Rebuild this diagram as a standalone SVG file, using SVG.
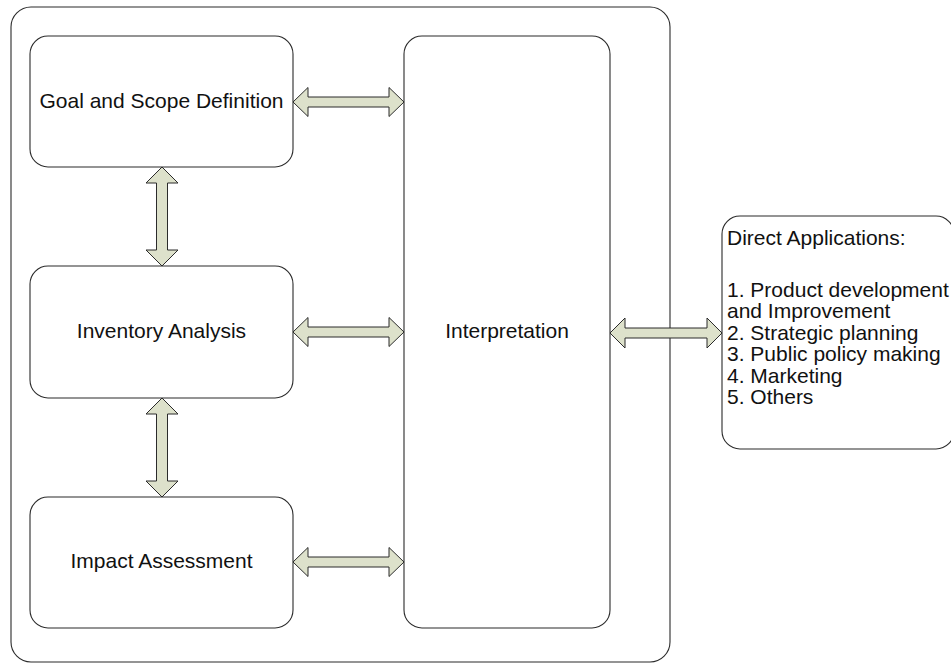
<svg xmlns="http://www.w3.org/2000/svg" width="951" height="663" viewBox="0 0 951 663">
<style>
.box{fill:#fff;stroke:#2b2b2b;stroke-width:1.1}
.arr{fill:#dde1cb;stroke:#2b2b2b;stroke-width:1}
.lbl{font-family:"Liberation Sans",Arial,sans-serif;font-size:21px;fill:#111;text-anchor:middle}
.lst{font-family:"Liberation Sans",Arial,sans-serif;font-size:21px;fill:#111}
</style>
<rect width="951" height="663" fill="#fff"/>
<g id="container"><rect class="box" x="11" y="7" width="659" height="655" rx="20" ry="20"/></g>
<g id="goal"><rect class="box" x="30" y="36" width="263" height="131" rx="18" ry="18"/><text class="lbl" x="161.5" y="108">Goal and Scope Definition</text></g>
<g id="inventory"><rect class="box" x="30" y="266" width="263" height="132" rx="18" ry="18"/><text class="lbl" x="161.5" y="338">Inventory Analysis</text></g>
<g id="impact"><rect class="box" x="30" y="497" width="263" height="131" rx="18" ry="18"/><text class="lbl" x="161.5" y="568">Impact Assessment</text></g>
<g id="interpretation"><rect class="box" x="404" y="36" width="206" height="592" rx="18" ry="18"/><text class="lbl" x="507" y="338">Interpretation</text></g>
<g id="applications"><rect class="box" x="722" y="216" width="232" height="233" rx="18" ry="18"/>
<text class="lst" x="727" y="245">Direct Applications:</text>
<text class="lst" x="727" y="297">1. Product development</text>
<text class="lst" x="727" y="318">and Improvement</text>
<text class="lst" x="727" y="339.5">2. Strategic planning</text>
<text class="lst" x="727" y="361">3. Public policy making</text>
<text class="lst" x="727" y="382.5">4. Marketing</text>
<text class="lst" x="727" y="404">5. Others</text>
</g>
<g id="connectors">
<path class="arr" d="M293,102 L308,87.5 L308,97 L389,97 L389,87.5 L404,102 L389,116.5 L389,107 L308,107 L308,116.5 Z"/>
<path class="arr" d="M293,332 L308,317.5 L308,327 L389,327 L389,317.5 L404,332 L389,346.5 L389,337 L308,337 L308,346.5 Z"/>
<path class="arr" d="M293,562 L308,547.5 L308,557 L389,557 L389,547.5 L404,562 L389,576.5 L389,567 L308,567 L308,576.5 Z"/>
<path class="arr" d="M610,333 L625,318 L625,328 L707,328 L707,318 L722,333 L707,348 L707,338 L625,338 L625,348 Z"/>
<path class="arr" d="M162,167 L178,183 L167.5,183 L167.5,250 L178,250 L162,266 L146,250 L156.5,250 L156.5,183 L146,183 Z"/>
<path class="arr" d="M162,398 L178,414 L167.5,414 L167.5,481 L178,481 L162,497 L146,481 L156.5,481 L156.5,414 L146,414 Z"/>
</g>
</svg>
